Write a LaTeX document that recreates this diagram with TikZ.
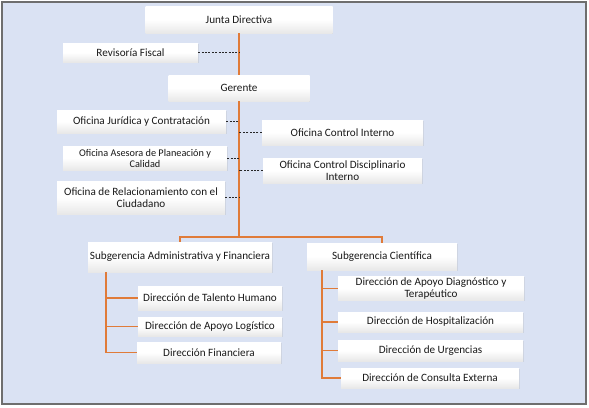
\documentclass[tikz,border=0pt]{standalone}
\usepackage{fontspec}
\setmainfont{Carlito}
\usetikzlibrary{shadows}
\definecolor{bgblue}{HTML}{DAE2F3}
\definecolor{framegray}{HTML}{6E6E6E}
\definecolor{orgline}{HTML}{E07B39}
\tikzset{
  box/.style={inner sep=1pt, align=center, font=\fontsize{11.2}{12}\selectfont, text=black!90,
    top color=white, bottom color=gray!18, middle color=white,
    drop shadow={opacity=0.18, shadow xshift=0.6pt, shadow yshift=-0.6pt}},
  orgl/.style={draw=orgline, line width=1.1pt},
  thinorg/.style={draw=orgline, line width=0.5pt},
  dashl/.style={draw=black!85, line width=0.7pt, dash pattern=on 2pt off 1.4pt}
}
\begin{document}
\begin{tikzpicture}[x=1bp,y=-1bp]
\useasboundingbox (0,0) rectangle (589,407);
\fill[white] (0,0) rectangle (589,407);
\filldraw[fill=bgblue, draw=framegray, line width=1.2pt] (2,2) rectangle (586,404);

\node[box, minimum width=187bp, minimum height=27bp] (jd) at (239,19.5) {Junta Directiva};
\node[box, minimum width=135bp, minimum height=19bp] (rf) at (130.5,52.5) {Revisoría Fiscal};
\node[box, minimum width=141bp, minimum height=26bp] (ger) at (239,88) {Gerente};
\node[box, minimum width=169bp, minimum height=23bp] (oj) at (141.5,121.5) {Oficina Jurídica y Contratación};
\node[box, minimum width=164bp, minimum height=24bp, font=\fontsize{10.3}{11}\selectfont] (op) at (145,158) {Oficina Asesora de Planeación y\\Calidad};
\node[box, minimum width=168bp, minimum height=33bp] (orc) at (141,197.5) {Oficina de Relacionamiento con el\\Ciudadano};
\node[box, minimum width=161bp, minimum height=25bp] (oci) at (342.5,132.5) {Oficina Control Interno};
\node[box, minimum width=159bp, minimum height=25bp] (ocd) at (342.5,170.5) {Oficina Control Disciplinario\\Interno};

\node[box, minimum width=184bp, minimum height=30bp] (sa) at (180,257) {Subgerencia Administrativa y Financiera};
\node[box, minimum width=150bp, minimum height=27bp] (sc) at (382,256.5) {Subgerencia Científica};

\node[box, minimum width=144bp, minimum height=24bp] (dth) at (210,298) {Dirección de Talento Humano};
\node[box, minimum width=144bp, minimum height=19bp] (dal) at (210,326.5) {Dirección de Apoyo Logístico};
\node[box, minimum width=144bp, minimum height=21bp] (df) at (209,352.5) {Dirección Financiera};

\node[box, minimum width=186bp, minimum height=21bp] (dad) at (431,288.5) {Dirección de Apoyo Diagnóstico y\\Terapéutico};
\node[box, minimum width=185bp, minimum height=20bp] (dh) at (430.5,322) {Dirección de Hospitalización};
\node[box, minimum width=185bp, minimum height=21bp] (du) at (430.5,350.5) {Dirección de Urgencias};
\node[box, minimum width=178bp, minimum height=20bp] (dce) at (430,378) {Dirección de Consulta Externa};

\coordinate (t) at (239,237);
\coordinate (la) at (106,272);
\coordinate (ra) at (322,270);

% main line
\draw[orgl] (jd.south) -- (ger.north);
\draw[orgl] (ger.south) -- (t);
\draw[orgl] (sa.north) |- (t) -| (sc.north);

% dashed staff links
\draw[dashl] (rf.east) -- (rf.east -| t);
\draw[dashl] (oj.east) -- (oj.east -| t);
\draw[dashl] (op.east) -- (op.east -| t);
\draw[dashl] (orc.east) -- (orc.east -| t);
\draw[dashl] (oci.west) -- (oci.west -| t);
\draw[dashl] (ocd.west) -- (ocd.west -| t);

% left branch
\draw[orgl] (la) |- (df.west);
\draw[orgl] (la |- dth.west) -- (dth.west);
\draw[orgl] (la |- dal.west) -- (dal.west);

% right branch
\draw[orgl] (ra) |- (dce.west);
\draw[thinorg] (ra |- dad.west) -- (dad.west);
\draw[orgl] (ra |- dh.west) -- (dh.west);
\draw[orgl] (ra |- du.west) -- (du.west);
\end{tikzpicture}
\end{document}
